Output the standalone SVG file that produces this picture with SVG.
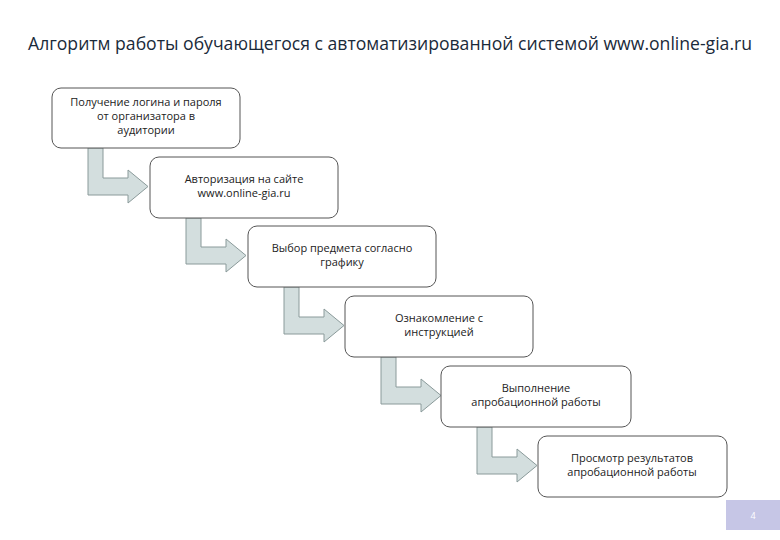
<svg xmlns="http://www.w3.org/2000/svg" width="780" height="540" viewBox="0 0 780 540">
<style>
.b{fill:#fff;stroke:#555;stroke-width:1}
.a{fill:#d3dede;stroke:#8a9a9a;stroke-width:1}
text{font-family:"Open Sans","Liberation Sans",sans-serif;font-size:11px;fill:#222;text-anchor:middle}
</style>
<rect width="780" height="540" fill="#fff"/>
<text x="390" y="50" style="font-size:17.5px;fill:#1a2a3a" textLength="724" lengthAdjust="spacingAndGlyphs">Алгоритм работы обучающегося с автоматизированной системой www.online-gia.ru</text>
<g id="connectors">
<path class="a" d="M88,148V195H128V203L148,186.5L128,170V178H103V148Z"/>
<path class="a" d="M186,218V264H226V272L246,255.5L226,239V247H201V218Z"/>
<path class="a" d="M284,287V334H324V342L344,325.5L324,309V317H299V287Z"/>
<path class="a" d="M381,357V404H421V412L441,395.5L421,379V387H396V357Z"/>
<path class="a" d="M477,427V474H517V482L537,465.5L517,449V457H492V427Z"/>
</g>
<g id="n1"><rect class="b" x="52" y="88" width="188" height="60" rx="9"/><text x="146" y="106">Получение логина и пароля</text><text x="146" y="120">от организатора в</text><text x="146" y="134">аудитории</text></g>
<g id="n2"><rect class="b" x="150" y="157" width="188" height="61" rx="9"/><text x="244" y="183">Авторизация на сайте</text><text x="244" y="197">www.online-gia.ru</text></g>
<g id="n3"><rect class="b" x="248" y="226" width="188" height="61" rx="9"/><text x="342" y="252">Выбор предмета согласно</text><text x="342" y="266">графику</text></g>
<g id="n4"><rect class="b" x="345" y="296" width="188" height="61" rx="9"/><text x="439" y="322">Ознакомление с</text><text x="439" y="336">инструкцией</text></g>
<g id="n5"><rect class="b" x="441" y="366" width="190" height="61" rx="9"/><text x="536" y="392">Выполнение</text><text x="536" y="406">апробационной работы</text></g>
<g id="n6"><rect class="b" x="538" y="436" width="189" height="61" rx="9"/><text x="632" y="462">Просмотр результатов</text><text x="632" y="476">апробационной работы</text></g>
<g id="page"><rect x="726" y="500" width="54" height="30" fill="#c6c6e6"/><text x="753" y="519" style="fill:#fff;font-size:9px">4</text></g>
</svg>
